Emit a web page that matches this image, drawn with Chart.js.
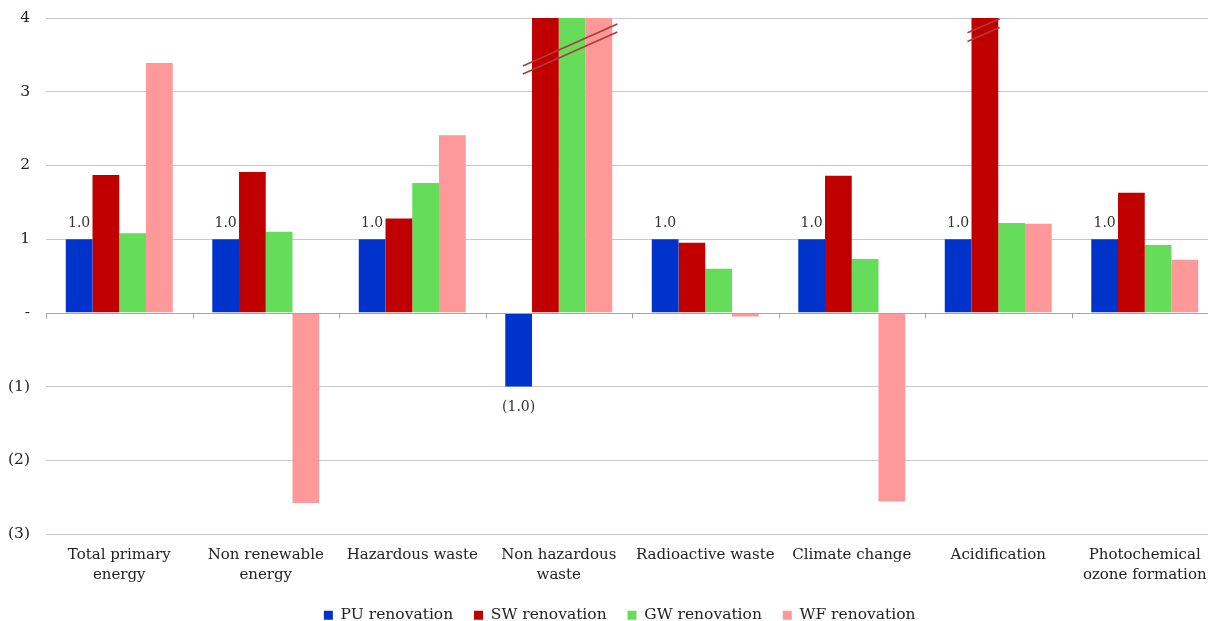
<!DOCTYPE html>
<html>
<head>
<meta charset="utf-8">
<script src="https://cdn.jsdelivr.net/npm/chart.js@4.4.1/dist/chart.umd.min.js"></script>
<style>
  html, body { margin: 0; padding: 0; background: #fff; overflow: hidden; }
  #wrap { width: 1236px; height: 621px; }
</style>
</head>
<body>
<div id="wrap"><canvas id="lcaChart" width="1236" height="621"></canvas></div>
<script>
// categories (multi-line labels) and series
const categories = [
  ['Total primary', 'energy'],
  ['Non renewable', 'energy'],
  'Hazardous waste',
  ['Non hazardous', 'waste'],
  'Radioactive waste',
  'Climate change',
  'Acidification',
  ['Photochemical', 'ozone formation'],
];
// bars beyond 4 run off the top of the axis (broken axis in the original)
const puValues = [1.0, 1.0, 1.0, -1.0, 1.0, 1.0, 1.0, 1.0];
const swValues = [1.87, 1.91, 1.28, 6.0, 0.95, 1.86, 6.0, 1.63];
const gwValues = [1.08, 1.10, 1.76, 6.0, 0.60, 0.73, 1.22, 0.92];
const wfValues = [3.39, -2.58, 2.41, 6.0, -0.05, -2.56, 1.21, 0.72];
const yTicks = [4, 3, 2, 1, 0, -1, -2, -3];

// axis break marks: category index, x span as fraction of category width, y span in values
const axisBreaks = [
  { index: 3, x0: -0.245, x1: 0.40, y0: 3.35, y1: 3.92, gap: 0.11 },
  { index: 6, x0: -0.21, x1: 0.01, y0: 3.80, y1: 3.99, gap: 0.12 },
];

const FONT = '"DejaVu Serif", "Liberation Serif", serif';

const fmtNum = v => {
  const s = Math.abs(v).toFixed(1);
  return v < 0 ? '(' + s + ')' : s;
};

const fmtTick = v => {
  if (v === 0) return '-';
  return v < 0 ? '(' + Math.abs(v) + ')' : String(v);
};

const barSet = (label, data, color) => ({
  label, data, backgroundColor: color, borderWidth: 0,
  barPercentage: 1.0, categoryPercentage: 0.73,
});

// zero line + tick marks at category boundaries
const zeroAxisPlugin = {
  id: 'zeroAxis',
  afterDatasetsDraw(chart) {
    const { ctx, chartArea, scales: { y } } = chart;
    const y0 = Math.round(y.getPixelForValue(0)) + 0.5;
    const n = categories.length;
    const w = (chartArea.right - chartArea.left) / n;
    ctx.save();
    ctx.strokeStyle = '#a6a6a6';
    ctx.lineWidth = 1;
    ctx.beginPath();
    ctx.moveTo(chartArea.left, y0);
    ctx.lineTo(chartArea.right, y0);
    for (let i = 0; i <= n; i++) {
      const px = Math.round(chartArea.left + i * w) + 0.5;
      ctx.moveTo(px, y0);
      ctx.lineTo(px, y0 + 5);
    }
    ctx.stroke();
    ctx.restore();
  },
};

// value labels on the PU series
const puLabelPlugin = {
  id: 'puLabels',
  afterDatasetsDraw(chart) {
    const { ctx } = chart;
    const meta = chart.getDatasetMeta(0);
    ctx.save();
    ctx.font = '14px ' + FONT;
    ctx.fillStyle = '#333';
    ctx.textAlign = 'center';
    meta.data.forEach((bar, i) => {
      const v = puValues[i];
      if (v >= 0) {
        ctx.textBaseline = 'bottom';
        ctx.fillText(fmtNum(v), bar.x, bar.y - 9);
      } else {
        ctx.textBaseline = 'top';
        ctx.fillText(fmtNum(v), bar.x, bar.y + 14);
      }
    });
    ctx.restore();
  },
};

// double slash marks where the bars are cut
const breakPlugin = {
  id: 'axisBreaks',
  afterDatasetsDraw(chart) {
    const { ctx, chartArea, scales: { x, y } } = chart;
    const w = (chartArea.right - chartArea.left) / categories.length;
    ctx.save();
    ctx.strokeStyle = '#b23a3a';
    ctx.lineWidth = 1.6;
    axisBreaks.forEach(b => {
      const cx = x.getPixelForValue(b.index);
      [0, b.gap].forEach(off => {
        ctx.beginPath();
        ctx.moveTo(cx + b.x0 * w, y.getPixelForValue(b.y0 - off));
        ctx.lineTo(cx + b.x1 * w, y.getPixelForValue(b.y1 - off));
        ctx.stroke();
      });
    });
    ctx.restore();
  },
};

const baseLabels = Chart.defaults.plugins.legend.labels.generateLabels;

new Chart(document.getElementById('lcaChart'), {
  type: 'bar',
  data: {
    labels: categories,
    datasets: [
      barSet('PU renovation', puValues, '#0033cc'),
      barSet('SW renovation', swValues, '#c00000'),
      barSet('GW renovation', gwValues, '#66dd5a'),
      barSet('WF renovation', wfValues, '#ff9999'),
    ],
  },
  options: {
    responsive: false,
    animation: false,
    layout: { padding: { top: 18, right: 18, left: 0, bottom: -12 } },
    plugins: {
      legend: {
        position: 'bottom',
        fullSize: false,
        labels: {
          color: '#222',
          font: { family: FONT, size: 15.5 },
          boxWidth: 9, boxHeight: 9, padding: 11,
          // extra room between items (and a nudge of the row to the right)
          generateLabels: chart => baseLabels(chart).map((l, i, all) => {
            l.text += i < all.length - 1 ? '  ' : '     ';
            return l;
          }),
        },
      },
      tooltip: { enabled: false },
    },
    scales: {
      x: {
        grid: { display: false, drawTicks: false },
        border: { display: false },
        ticks: {
          color: '#222', autoSkip: false, maxRotation: 0, padding: 11,
          font: { family: FONT, size: 15, lineHeight: 1.35 },
        },
      },
      y: {
        min: -3, max: 4,
        afterBuildTicks: scale => { scale.ticks = yTicks.map(v => ({ value: v })); },
        grid: { color: ctx => ctx.tick && ctx.tick.value === 0 ? 'rgba(0,0,0,0)' : '#c9c9c9', drawTicks: false },
        border: { display: false },
        ticks: {
          color: '#222', padding: 16,
          font: { family: FONT, size: 15.5 },
          callback: v => fmtTick(v),
        },
        afterFit: scale => {
          scale.width = 46;
          scale.paddingTop = 0;
          scale.paddingBottom = 0;
        },
      },
    },
  },
  plugins: [zeroAxisPlugin, puLabelPlugin, breakPlugin],
});
</script>
</body>
</html>
